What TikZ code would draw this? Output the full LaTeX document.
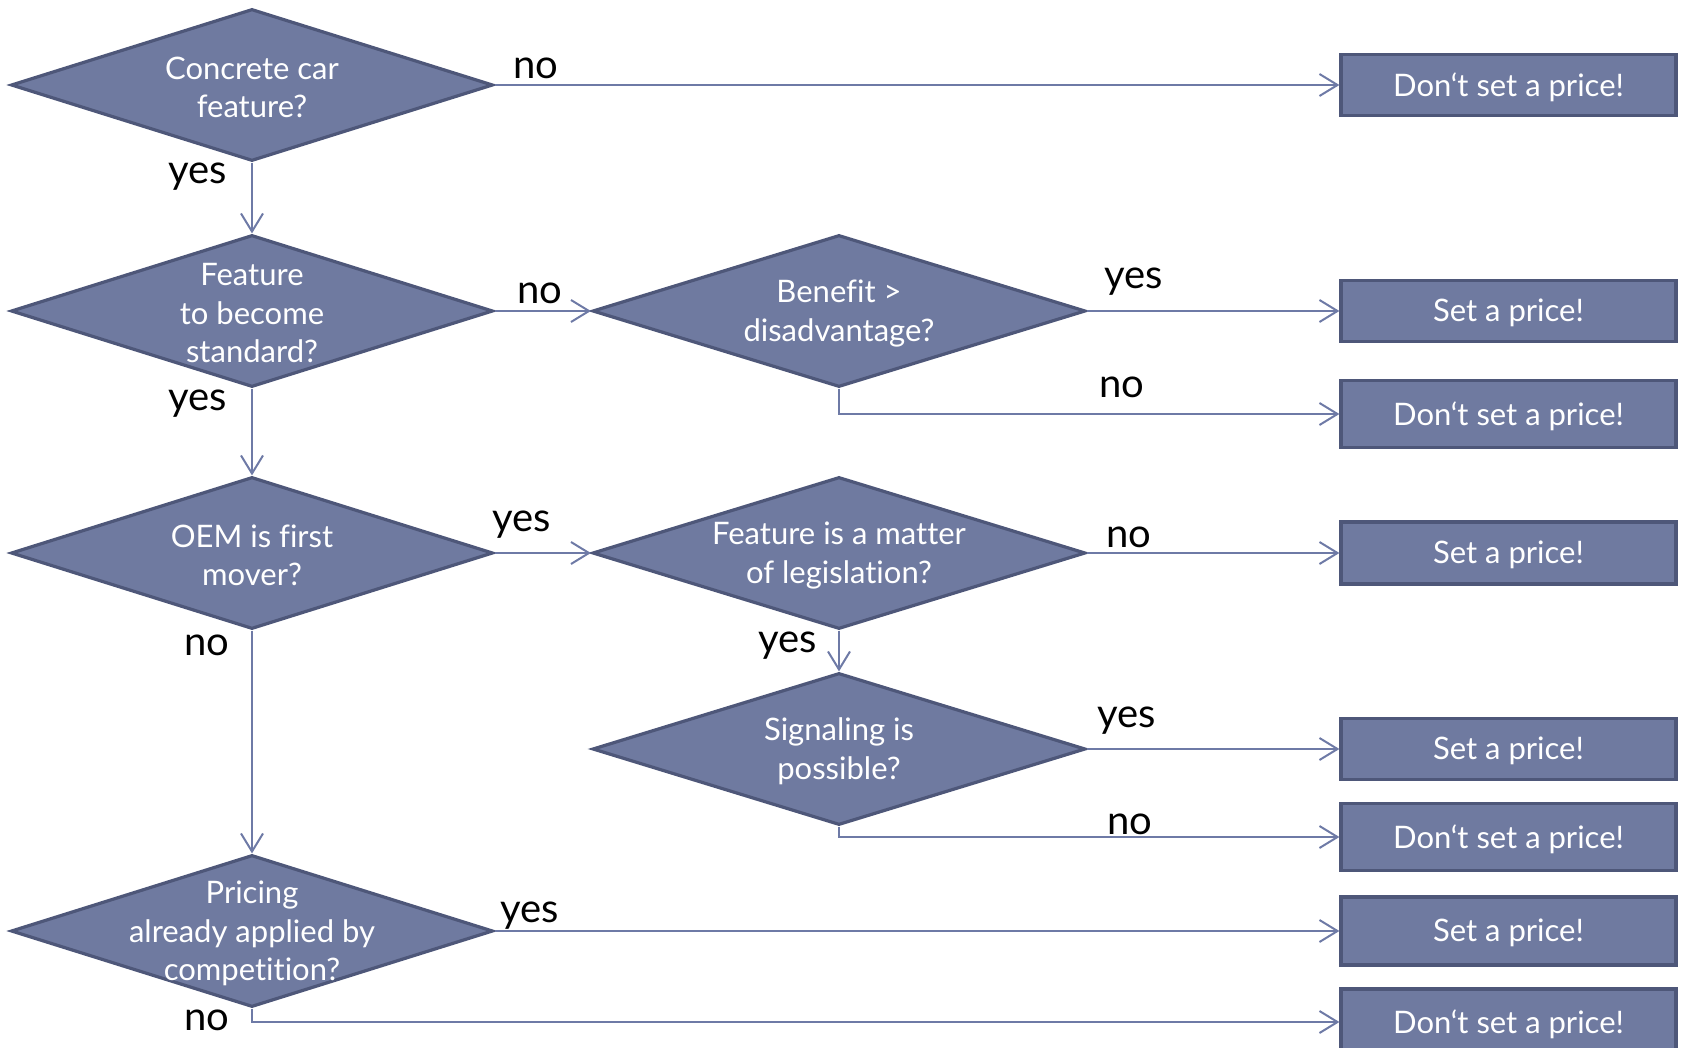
\documentclass[tikz,border=0pt]{standalone}
\usepackage{fontspec}
\setmainfont{Lato}[Ligatures=CommonOff]
\usetikzlibrary{shapes.geometric,arrows.meta}
\definecolor{fillc}{HTML}{6F7AA0}
\definecolor{edgec}{HTML}{4E5779}
\definecolor{linec}{HTML}{6E7AA6}
\begin{document}
\begin{tikzpicture}[x=0.5pt,y=-0.5pt,
  dia/.style={diamond, fill=fillc, draw=edgec, line width=1.6pt, inner sep=0pt, minimum width=241pt, minimum height=76pt},
  diaw/.style={dia, minimum width=246.5pt},
  dtext/.style={text=white, align=center, yshift=-1.2pt, font=\fontsize{15.5}{19.3}\selectfont},
  box/.style={rectangle, fill=fillc, draw=edgec, line width=1.6pt, inner sep=0pt, minimum width=167.5pt, text=white, font=\fontsize{15.5}{19.3}\selectfont},
  btext/.style={text=white, yshift=-1pt, font=\fontsize{15.5}{19.3}\selectfont},
  lab/.style={text=black, font=\fontsize{20}{24}\selectfont, inner sep=0pt, yshift=-2.2pt},
  conn/.style={draw=linec, line width=1pt, -{Straight Barb[length=9pt,width=11pt,line width=1pt]}}
]
\useasboundingbox (0,0) rectangle (1681,1048);
\clip (0,0) rectangle (1681,1048);

% decision diamonds
\node[dia] (d1) at (252,85) {};
\node[dtext] (t1) at (d1) {Concrete car\\feature?};
\node[dia] (d2) at (252,311) {};
\node[dtext] (t2) at (d2) {Feature\\to become\\standard?};
\node[dia] (d3) at (252,553) {};
\node[dtext] (t3) at (d3) {OEM is first\\mover?};
\node[dia] (d4) at (252,931) {};
\node[dtext] (t4) at (d4) {Pricing\\already applied by\\competition?};
\node[diaw] (d5) at (839,311) {};
\node[dtext] (t5) at (d5) {Benefit >\\disadvantage?};
\node[diaw] (d6) at (839,553) {};
\node[dtext] (t6) at (d6) {Feature is a matter\\of legislation?};
\node[diaw] (d7) at (839,749) {};
\node[dtext] (t7) at (d7) {Signaling is\\possible?};

% outcome boxes
\node[box, minimum height=30.5pt] (b1) at (1508.5,85) {};
\node[btext] (bt1) at (b1) {Don‘t set a price!};
\node[box, minimum height=30.5pt] (b2) at (1508.5,311) {};
\node[btext] (bt2) at (b2) {Set a price!};
\node[box, minimum height=33.5pt] (b3) at (1508.5,414) {};
\node[btext] (bt3) at (b3) {Don‘t set a price!};
\node[box, minimum height=31pt] (b4) at (1508.5,553) {};
\node[btext] (bt4) at (b4) {Set a price!};
\node[box, minimum height=30.5pt] (b5) at (1508.5,749) {};
\node[btext] (bt5) at (b5) {Set a price!};
\node[box, minimum height=33.5pt] (b6) at (1508.5,837) {};
\node[btext] (bt6) at (b6) {Don‘t set a price!};
\node[box, minimum height=34pt] (b7) at (1508.5,931) {};
\node[btext] (bt7) at (b7) {Set a price!};
\node[box, minimum height=33pt] (b8) at (1508.5,1022) {};
\node[btext] (bt8) at (b8) {Don‘t set a price!};

% connectors
\draw[conn] (d1.east) -- (b1.west);
\draw[conn] (d1.south) -- (d2.north);
\draw[conn] (d2.east) -- (d5.west);
\draw[conn] (d2.south) -- (d3.north);
\draw[conn] (d5.east) -- (b2.west);
\draw[conn] (d5.south) |- (b3.west);
\draw[conn] (d3.east) -- (d6.west);
\draw[conn] (d3.south) -- (d4.north);
\draw[conn] (d6.east) -- (b4.west);
\draw[conn] (d6.south) -- (d7.north);
\draw[conn] (d7.east) -- (b5.west);
\draw[conn] (d7.south) |- (b6.west);
\draw[conn] (d4.east) -- (b7.west);
\draw[conn] (d4.south) |- (b8.west);

% labels
\node[lab] (l1) at (536,64) {no};
\node[lab] (l2) at (198,172) {yes};
\node[lab] (l3) at (540,289) {no};
\node[lab] (l4) at (198,399) {yes};
\node[lab] (l5) at (1134,277) {yes};
\node[lab] (l6) at (1122,383) {no};
\node[lab] (l7) at (522,520) {yes};
\node[lab] (l8) at (207,641) {no};
\node[lab] (l9) at (1129,533) {no};
\node[lab] (l10) at (788,641) {yes};
\node[lab] (l11) at (1127,716) {yes};
\node[lab] (l12) at (1130,820) {no};
\node[lab] (l13) at (530,911) {yes};
\node[lab] (l14) at (207,1016) {no};
\end{tikzpicture}
\end{document}
